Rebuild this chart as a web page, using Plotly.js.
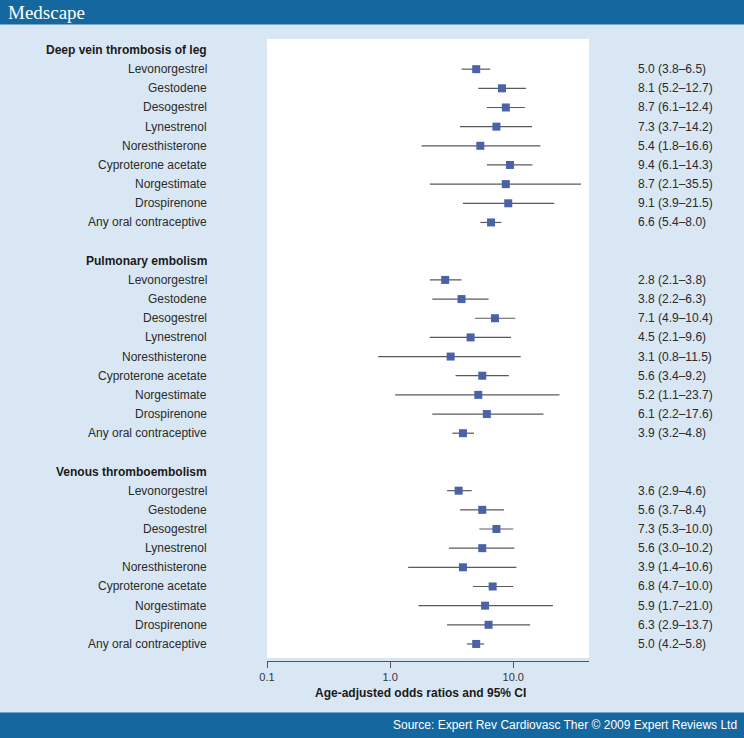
<!DOCTYPE html>
<html>
<head>
<meta charset="utf-8">
<script src="https://cdn.plot.ly/plotly-3.0.1.min.js"></script>
<style>html,body{margin:0;padding:0;background:#d9e7f4;}#chart{width:744px;height:738px;}</style>
</head>
<body>
<div id="chart"></div>
<script>
// ---- data ----
const groups = ["Deep vein thrombosis of leg", "Pulmonary embolism", "Venous thromboembolism"];
const drugs = ["Levonorgestrel", "Gestodene", "Desogestrel", "Lynestrenol", "Noresthisterone",
               "Cyproterone acetate", "Norgestimate", "Drospirenone", "Any oral contraceptive"];
const dvtOR = [5.0, 8.1, 8.7, 7.3, 5.4, 9.4, 8.7, 9.1, 6.6];
const dvtLo = [3.8, 5.2, 6.1, 3.7, 1.8, 6.1, 2.1, 3.9, 5.4];
const dvtHi = [6.5, 12.7, 12.4, 14.2, 16.6, 14.3, 35.5, 21.5, 8.0];
const peOR  = [2.8, 3.8, 7.1, 4.5, 3.1, 5.6, 5.2, 6.1, 3.9];
const peLo  = [2.1, 2.2, 4.9, 2.1, 0.8, 3.4, 1.1, 2.2, 3.2];
const peHi  = [3.8, 6.3, 10.4, 9.6, 11.5, 9.2, 23.7, 17.6, 4.8];
const vteOR = [3.6, 5.6, 7.3, 5.6, 3.9, 6.8, 5.9, 6.3, 5.0];
const vteLo = [2.9, 3.7, 5.3, 3.0, 1.4, 4.7, 1.7, 2.9, 4.2];
const vteHi = [4.6, 8.4, 10.0, 10.2, 10.6, 10.0, 21.0, 13.7, 5.8];
const xTickVals = [0.1, 1, 10];
const xTickText = ["0.1", "1.0", "10.0"];
const xTitle = "Age-adjusted odds ratios and 95% CI";
const sourceText = "Source: Expert Rev Cardiovasc Ther \u00a9 2009 Expert Reviews Ltd";
const brandText = "Medscape";

// ---- build ----
const series = [[dvtOR, dvtLo, dvtHi], [peOR, peLo, peHi], [vteOR, vteLo, vteHi]];
const W = 744, H = 738;
const L = 267, R = 589, T = 39, B = 661;
const pw = R - L, ph = B - T;
const px = p => (p - L) / pw;          // pixel x -> paper x
const py = p => (B - p) / ph;          // pixel y -> paper y

const xs = [], ys = [], ep = [], em = [];
const ann = [];
const fnt = "Liberation Sans, Arial, sans-serif";
groups.forEach((g, gi) => {
  const base = gi * 11;
  ann.push({xref: "paper", yref: "y", x: px(209), y: base, xanchor: "right", yanchor: "middle",
            text: "<b>" + g + "</b>", showarrow: false, font: {family: fnt, size: 12, color: "#1a1a1a"}});
  const [o, lo, hi] = series[gi];
  drugs.forEach((d, di) => {
    const yi = base + 1 + di;
    xs.push(o[di]); ys.push(yi); ep.push(hi[di] - o[di]); em.push(o[di] - lo[di]);
    ann.push({xref: "paper", yref: "y", x: px(209), y: yi, xanchor: "right", yanchor: "middle",
              text: d, showarrow: false, font: {family: fnt, size: 12, color: "#2a2a2a"}});
    ann.push({xref: "paper", yref: "y", x: px(636), y: yi, xanchor: "left", yanchor: "middle",
              text: o[di].toFixed(1) + " (" + lo[di].toFixed(1) + "\u2013" + hi[di].toFixed(1) + ")",
              showarrow: false, font: {family: fnt, size: 12, color: "#2a2a2a"}});
  });
});

ann.push({xref: "paper", yref: "paper", x: px(420), y: py(693), xanchor: "center", yanchor: "middle",
          text: "<b>" + xTitle + "</b>", showarrow: false, font: {family: fnt, size: 12, color: "#1a1a1a"}});
ann.push({xref: "paper", yref: "paper", x: px(6), y: py(12), xanchor: "left", yanchor: "middle",
          text: brandText, showarrow: false, font: {family: "Liberation Serif, Times New Roman, serif", size: 19, color: "#ffffff"}});
ann.push({xref: "paper", yref: "paper", x: px(739), y: py(725), xanchor: "right", yanchor: "middle",
          text: sourceText, showarrow: false, font: {family: fnt, size: 12, color: "#ffffff"}});

const s = (B - T) ; // unused helper
const rowPx = 19.16, y0px = 50;
const yTop = -(y0px - T) / rowPx;
const yBot = 31 + (B - (y0px + 31 * rowPx)) / rowPx;

const trace = {
  type: "scatter", mode: "markers", x: xs, y: ys,
  marker: {symbol: "square", size: 8, color: "#4a63a6", line: {width: 0}},
  error_x: {type: "data", symmetric: false, array: ep, arrayminus: em, width: 0, thickness: 1.2, color: "#5a5a5a"},
  hoverinfo: "skip", cliponaxis: false
};

const layout = {
  width: W, height: H,
  margin: {l: L, r: W - R, t: T, b: H - B, pad: 0},
  paper_bgcolor: "#d9e7f4", plot_bgcolor: "rgba(0,0,0,0)",
  showlegend: false, hovermode: false,
  xaxis: {type: "log", range: [-1, 1.615], tickvals: xTickVals, ticktext: xTickText,
          ticks: "outside", ticklen: 6, tickcolor: "#555", tickwidth: 1,
          showline: true, linecolor: "#555", linewidth: 1, showgrid: false, zeroline: false,
          tickfont: {family: fnt, size: 11, color: "#333"}, fixedrange: true},
  yaxis: {range: [yBot, yTop], visible: false, fixedrange: true},
  shapes: [
    {type: "rect", xref: "paper", yref: "paper", x0: 0, x1: 1, y0: py(658), y1: 1,
     fillcolor: "#ffffff", line: {width: 0}, layer: "below"},
    {type: "rect", xref: "paper", yref: "paper", x0: px(0), x1: px(W), y0: py(0), y1: py(24.5),
     fillcolor: "#14679f", line: {width: 0}, layer: "below"},
    {type: "rect", xref: "paper", yref: "paper", x0: px(0), x1: px(W), y0: py(712.5), y1: py(H),
     fillcolor: "#14679f", line: {width: 0}, layer: "below"}
  ],
  annotations: ann
};

Plotly.newPlot("chart", [trace], layout, {staticPlot: true, displayModeBar: false});
</script>
</body>
</html>
